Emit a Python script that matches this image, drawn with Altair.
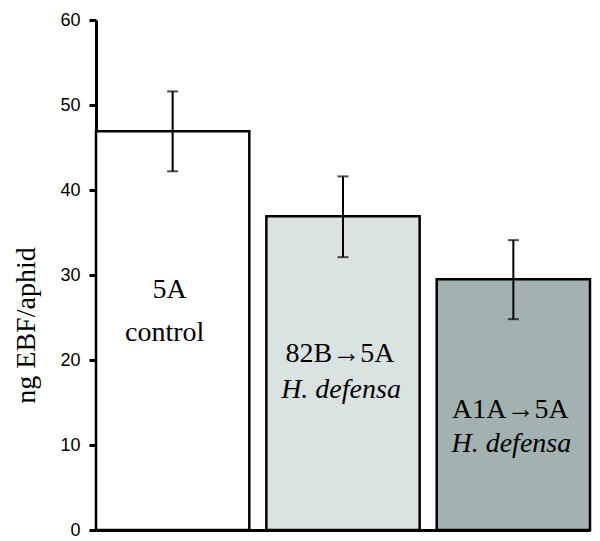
import altair as alt
import pandas as pd

categories = ["5A control", "82B→5A H. defensa", "A1A→5A H. defensa"]
means = [46.9, 36.9, 29.5]
err_low = [42.2, 32.1, 24.8]
err_high = [51.6, 41.6, 34.1]
fills = ["#ffffff", "#dbe3e2", "#a3b2b1"]
line1 = ["5A", "82B→5A", "A1A→5A"]
line2 = ["control", "H. defensa", "H. defensa"]
italic2 = [False, True, True]
line1_y = [28.2, 20.7, 14.1]
line2_y = [23.2, 16.5, 10.1]
y_ticks = [0, 10, 20, 30, 40, 50, 60]

SERIF = "Times New Roman, Liberation Serif, DejaVu Serif, serif"

df = pd.DataFrame({
    "cat": categories, "mean": means, "lo": err_low, "hi": err_high,
    "l1": line1, "l2": line2, "it": italic2, "y1": line1_y, "y2": line2_y,
})

x = alt.X("cat:N", sort=categories,
          scale=alt.Scale(paddingInner=0.1, paddingOuter=0),
          axis=alt.Axis(labels=False, ticks=False, title=None, domainWidth=3, domainColor="black"))

base = alt.Chart(df)

bars = base.mark_bar(stroke="black", strokeWidth=2.5).encode(
    x=x,
    y=alt.Y("mean:Q", scale=alt.Scale(domain=[0, 60]),
            axis=alt.Axis(values=y_ticks, title="ng EBF/aphid", grid=False,
                          titleFont=SERIF, titleFontSize=28, titleFontWeight="normal",
                          titleColor="black", titleAngle=-90, titleX=-62, titleY=305,
                          titleAlign="center", titleBaseline="alphabetic",
                          labelFont="Liberation Sans", labelFontSize=18, labelColor="black",
                          labelPadding=9, tickSize=7, tickWidth=3, tickColor="black",
                          domainWidth=3, domainColor="black")),
    fill=alt.Fill("cat:N", scale=alt.Scale(domain=categories, range=fills), legend=None),
)

err = base.mark_rule(color="black", strokeWidth=2).encode(x=x, y="lo:Q", y2="hi:Q")
cap_lo = base.mark_tick(color="black", thickness=2, size=11).encode(x=x, y="lo:Q")
cap_hi = base.mark_tick(color="black", thickness=2, size=11).encode(x=x, y="hi:Q")

t1 = base.mark_text(font=SERIF, fontSize=28, color="black", baseline="middle", dx=-3).encode(
    x=x, y="y1:Q", text="l1:N")
t2a = base.transform_filter("!datum.it").mark_text(
    font=SERIF, fontSize=28, color="black", baseline="middle", dx=-8).encode(
    x=x, y="y2:Q", text="l2:N")
t2b = base.transform_filter("datum.it").mark_text(
    font=SERIF, fontSize=28, fontStyle="italic", color="black", baseline="middle", dx=-2).encode(
    x=x, y="y2:Q", text="l2:N")

chart = alt.layer(bars, err, cap_lo, cap_hi, t1, t2a, t2b).properties(
    width=494, height=510,
    autosize=alt.AutoSizeParams(type="none"),
    padding={"left": 88, "top": 12, "right": 2, "bottom": 10},
).configure_view(stroke=None)

chart.save("out.html", embed_options={"renderer": "svg", "actions": False})
